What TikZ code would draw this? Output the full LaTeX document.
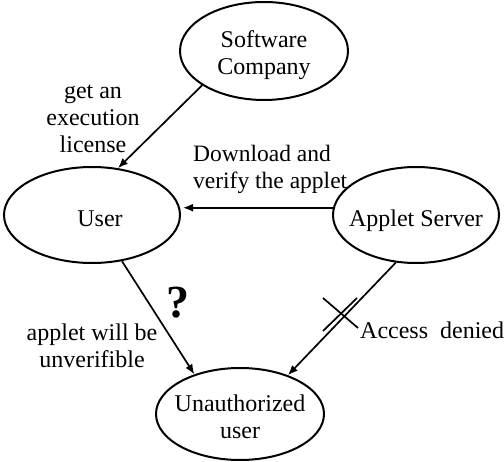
\documentclass[tikz,border=0pt]{standalone}
\usepackage{fontspec}
\setmainfont{Liberation Serif}
\usetikzlibrary{shapes.geometric,arrows.meta}
\begin{document}
\begin{tikzpicture}[x=1pt,y=-1pt,
  state/.style={draw, ellipse, line width=2pt, inner sep=0pt},
  lbl/.style={font=\fontsize{24}{27}\selectfont, align=center, inner sep=0pt},
  arr/.style={line width=1.7pt, -{Latex[length=10pt,width=8pt]}},
  cut/.style={line width=1.7pt},
]
\useasboundingbox (0,0) rectangle (504,462);
\node[state, minimum width=168, minimum height=98,
      label={[lbl, yshift=-4pt]center:Software\\Company}] (sc) at (264,51) {};
\node[state, minimum width=176, minimum height=96,
      label={[lbl, xshift=8pt, yshift=-4pt]center:User}] (user) at (92,215) {};
\node[state, minimum width=166, minimum height=96,
      label={[lbl, yshift=-6pt]center:Applet Server}] (as) at (416,215) {};
\node[state, minimum width=168, minimum height=92,
      label={[lbl, yshift=-3pt]center:Unauthorized\\user}] (un) at (240,414) {};

\draw[arr] (sc.209) -- (user.61);
\draw[arr, shorten >=2pt] (as.175) -- (as.175 -| user.east);
\draw[arr] (user.303) -- (un.139);
\draw[arr] (as.247) -- (un.39);

\node[lbl] (lic) at (93,119) {get an\\execution\\license};
\node[lbl, align=left, anchor=west, font=\fontsize{23.5}{27}\selectfont] (dl) at (193,169) {Download and\\verify the applet};
\node[font=\fontsize{46}{46}\selectfont\bfseries, inner sep=0pt] (q) at (178,303) {?};
\node[lbl] (unv) at (92,346) {applet will be\\unverifible};
\node[lbl, anchor=west] (ad) at (360,330) {Access\ \ denied};

\coordinate (c1) at (323,298);
\coordinate (c2) at (358,328);
\coordinate (c3) at (323,331);
\coordinate (c4) at (357,298);
\draw[cut] (c1) -- (c2);
\draw[cut] (c3) -- (c4);
\end{tikzpicture}
\end{document}
